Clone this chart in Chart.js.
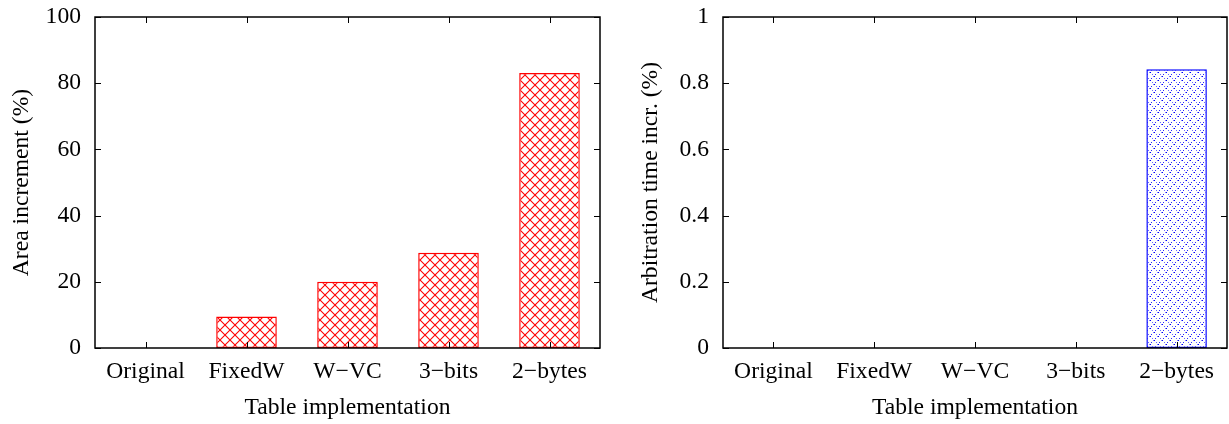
<!DOCTYPE html>
<html>
<head>
<meta charset="utf-8">
<script src="https://cdn.jsdelivr.net/npm/chart.js@4/dist/chart.umd.min.js"></script>
<style>
  html, body { margin: 0; padding: 0; background: #fff; }
  #wrap { position: relative; width: 1229px; height: 424px; overflow: hidden; }
  #c1 { position: absolute; left: 0; top: 0; }
  #c2 { position: absolute; left: 614px; top: 0; }
</style>
</head>
<body>
<div id="wrap">
  <canvas id="c1" width="614" height="424"></canvas>
  <canvas id="c2" width="615" height="424"></canvas>
</div>
<script>
// ---- data ----
const categories = ["Original", "FixedW", "W\u2212VC", "3\u2212bits", "2\u2212bytes"];
const areaIncrement = [0, 9.5, 20.0, 28.8, 83.1];
const arbitrationIncrement = [0, 0, 0, 0, 0.842];
const areaTicks = [0, 20, 40, 60, 80, 100];
const arbTicks = [0, 0.2, 0.4, 0.6, 0.8, 1];
const areaTickLabels = ["0", "20", "40", "60", "80", "100"];
const arbTickLabels = ["0", "0.2", "0.4", "0.6", "0.8", "1"];
const xTitle = "Table implementation";
const areaTitle = "Area increment (%)";
const arbTitle = "Arbitration time incr. (%)";

const FONT = "'Liberation Serif', 'Times New Roman', serif";
const FS = 23.6;

function redHatch() {
  const c = document.createElement('canvas');
  c.width = 10; c.height = 10;
  const g = c.getContext('2d');
  g.fillStyle = '#fff'; g.fillRect(0, 0, 10, 10);
  g.strokeStyle = '#ff0000'; g.lineWidth = 1.1;
  g.beginPath();
  g.moveTo(-1, -1); g.lineTo(11, 11);
  g.moveTo(-1, 11); g.lineTo(11, -1);
  g.stroke();
  return g.createPattern(c, 'repeat');
}
function blueDots() {
  const c = document.createElement('canvas');
  c.width = 8; c.height = 8;
  const g = c.getContext('2d');
  g.fillStyle = '#fff'; g.fillRect(0, 0, 8, 8);
  for (let i = 0; i < 8; i++) {
    if (i % 2 === 0) {
      g.fillStyle = (i % 4 === 0) ? '#0000ff' : '#6a6aff';
      g.fillRect(i, i, 1, 1);
    } else {
      g.fillStyle = (i % 4 === 1) ? '#2a2aff' : '#8080ff';
      g.fillRect(i, 7 - i, 1, 1);
    }
  }
  return g.createPattern(c, 'repeat');
}

const frame = {
  id: 'frame',
  afterDatasetsDraw(chart) {
    const { ctx, chartArea: a } = chart;
    const x = chart.scales.x, y = chart.scales.y;
    ctx.save();
    ctx.strokeStyle = '#000';
    ctx.lineWidth = 1.5;
    ctx.strokeRect(a.left, a.top, a.right - a.left, a.bottom - a.top);
    ctx.lineWidth = 1;
    const L = 6;
    ctx.beginPath();
    y.ticks.forEach((t, i) => {
      const py = Math.round(y.getPixelForTick(i)) + 0.5;
      ctx.moveTo(a.left, py); ctx.lineTo(a.left + L, py);
      ctx.moveTo(a.right, py); ctx.lineTo(a.right - L, py);
    });
    x.ticks.forEach((t, i) => {
      const px = Math.round(x.getPixelForTick(i)) + 0.5;
      ctx.moveTo(px, a.bottom); ctx.lineTo(px, a.bottom - L);
      ctx.moveTo(px, a.top); ctx.lineTo(px, a.top + L);
    });
    ctx.stroke();
    ctx.restore();
  }
};

function makeChart(id, values, ticksArr, tickLabels, yTitle, yWidth, titlePad, padRight, bg, border) {
  return new Chart(document.getElementById(id), {
    type: 'bar',
    data: {
      labels: categories,
      datasets: [{
        data: values,
        backgroundColor: bg,
        borderColor: border,
        borderWidth: 1.5,
        borderSkipped: false,
        barPercentage: 0.6,
        categoryPercentage: 1.0
      }]
    },
    options: {
      responsive: false,
      animation: false,
      devicePixelRatio: 1,
      layout: { padding: { top: 17, right: padRight, bottom: 0, left: 0 } },
      plugins: { legend: { display: false }, tooltip: { enabled: false } },
      scales: {
        x: {
          grid: { display: false, drawTicks: false },
          border: { display: false },
          ticks: { color: '#000', font: { family: FONT, size: FS }, padding: 10, maxRotation: 0, autoSkip: false },
          title: { display: true, text: xTitle, color: '#000', font: { family: FONT, size: FS }, padding: { top: 0, bottom: 2 } },
          afterFit(s) { s.height = 76; s.paddingLeft = 0; s.paddingRight = 0; }
        },
        y: {
          min: ticksArr[0],
          max: ticksArr[ticksArr.length - 1],
          afterBuildTicks(s) { s.ticks = ticksArr.map(v => ({ value: v })); },
          grid: { display: false, drawTicks: false },
          border: { display: false },
          ticks: {
            color: '#000', font: { family: FONT, size: FS }, padding: 14,
            callback(v, i) { return tickLabels[i]; }
          },
          title: { display: true, text: yTitle, color: '#000', font: { family: FONT, size: FS }, padding: { top: titlePad, bottom: 0 } },
          afterFit(s) { s.width = yWidth; s.paddingTop = 0; s.paddingBottom = 0; }
        }
      }
    },
    plugins: [frame]
  });
}

makeChart('c1', areaIncrement, areaTicks, areaTickLabels, areaTitle, 95, 8, 14, redHatch(), '#ff0000');
makeChart('c2', arbitrationIncrement, arbTicks, arbTickLabels, arbTitle, 109, 23, 2, blueDots(), '#0000ff');
</script>
</body>
</html>
